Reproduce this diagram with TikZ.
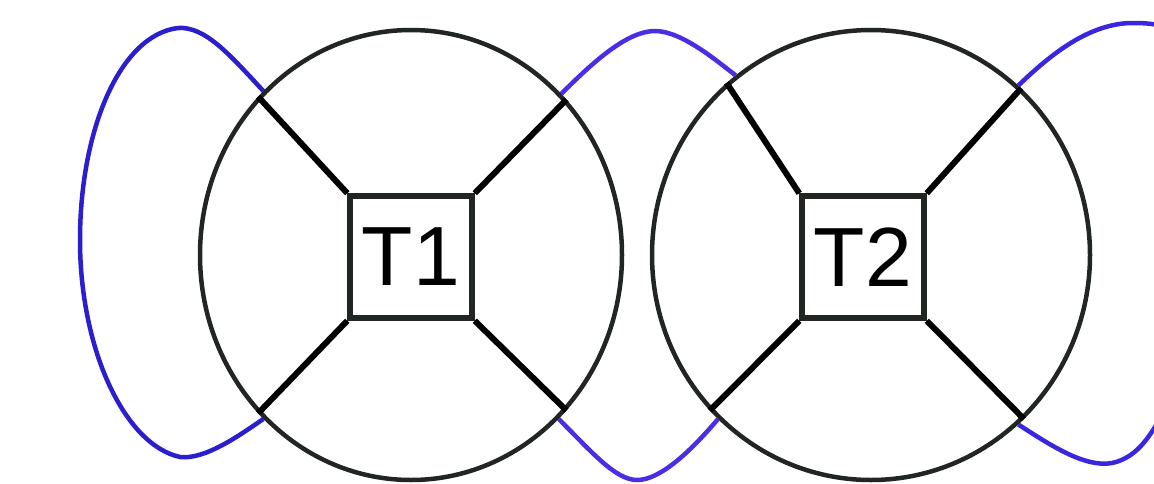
\documentclass[tikz,border=0pt]{standalone}
\usepackage{fontspec}
\setmainfont{Liberation Sans}
\usepackage{tikz}
\usetikzlibrary{shapes.geometric}
\definecolor{ringgray}{RGB}{34,38,34}
\definecolor{loopblue}{RGB}{42,30,205}
\definecolor{loopviolet}{RGB}{74,46,228}
\definecolor{loopmid}{RGB}{58,38,222}

\begin{document}
\begin{tikzpicture}[
    x=1pt, y=-1pt,
    ring/.style={ellipse, draw=ringgray, line width=4.5pt, inner sep=0pt},
    tensor/.style={rectangle, draw=ringgray, line width=5.5pt, minimum size=122pt, inner sep=0pt,
                   font=\fontsize{84}{84}\selectfont},
    leg/.style={line width=6pt, black},
    loop/.style={line width=4.5pt}
]
\useasboundingbox (0,0) rectangle (1154,483);
\clip (0,0) rectangle (1154,483);

% Define rings and tensors
\node[ring, minimum width=422pt, minimum height=450pt] (c1) at (411,255) {};
\node[ring, minimum width=438pt, minimum height=450pt] (c2) at (871,255) {};
\node[tensor] (T1) at (411,257) {T1};
\node[tensor] (T2) at (863,257) {T2};

% Define legs
\draw[leg] (T1.north west) -- (c1.134);
\draw[leg] (T1.north east) -- (c1.45);
\draw[leg] (T1.south west) -- (c1.226);
\draw[leg] (T1.south east) -- (c1.315);
\draw[leg] (T2.north west) -- (c2.130);
\draw[leg] (T2.north east) -- (c2.48);
\draw[leg] (T2.south west) -- (c2.224);
\draw[leg] (T2.south east) -- (c2.313);

% Define loops
\draw[loop, loopblue] (c1.132) .. controls (230,55) and (205,26) .. (178,28)
    .. controls (120,35) and (80,130) .. (80,240)
    .. controls (80,350) and (125,445) .. (180,457)
    .. controls (205,460) and (240,435) .. (c1.228);
\draw[loop, loopviolet] (c1.47) .. controls (595,60) and (628,31) .. (655,31)
    .. controls (682,31) and (718,62) .. (c2.127);
\draw[loop, loopviolet] (c1.312) .. controls (590,450) and (615,480) .. (637,480)
    .. controls (660,480) and (690,452) .. (c2.227);
\draw[loop, loopmid] (c2.49) .. controls (1050,55) and (1090,22) .. (1135,23)
    .. controls (1150,23) and (1160,25) .. (1170,28);
\draw[loop, loopmid] (c2.311) .. controls (1050,445) and (1085,468) .. (1112,463)
    .. controls (1135,458) and (1148,440) .. (1162,415);

\end{tikzpicture}
\end{document}
